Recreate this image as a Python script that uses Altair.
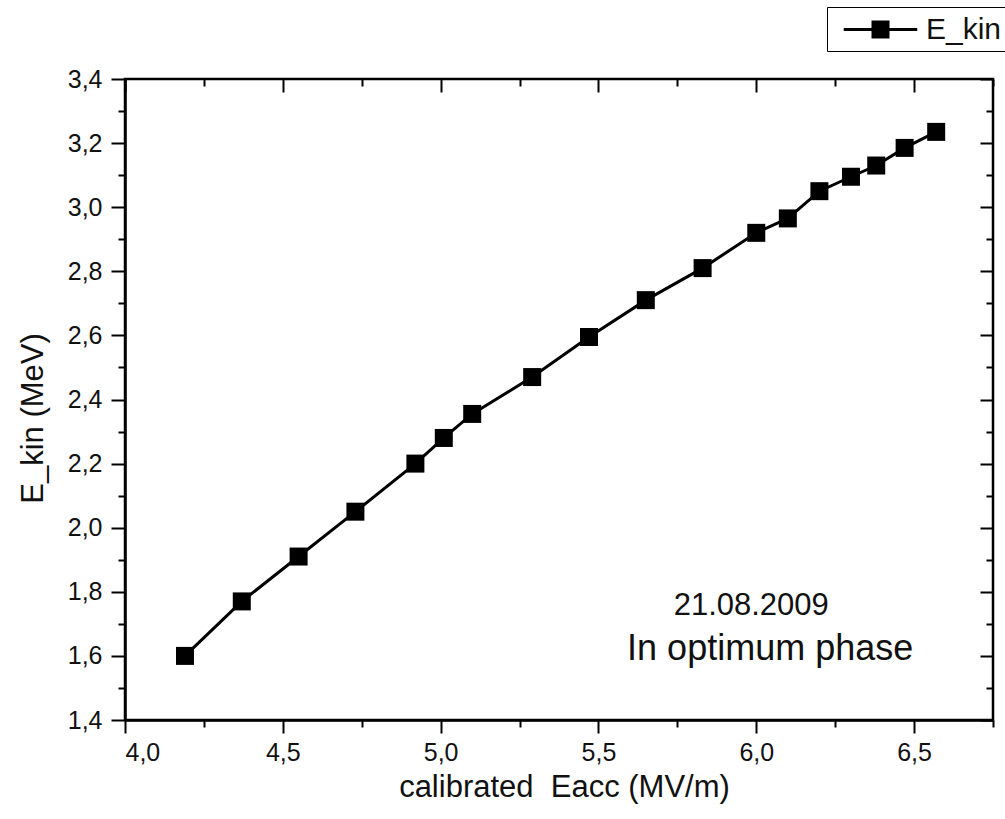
import altair as alt
import pandas as pd

# ---- data ----
eacc = [4.19, 4.37, 4.55, 4.73, 4.92, 5.01, 5.10, 5.29, 5.47, 5.65, 5.83,
        6.00, 6.10, 6.20, 6.30, 6.38, 6.47, 6.57]
ekin = [1.60, 1.77, 1.91, 2.05, 2.20, 2.28, 2.355, 2.47, 2.595, 2.71, 2.81,
        2.92, 2.965, 3.05, 3.095, 3.13, 3.185, 3.235]
series_name = "E_kin"

x_ticks = [4.0, 4.25, 4.5, 4.75, 5.0, 5.25, 5.5, 5.75, 6.0, 6.25, 6.5, 6.75]
y_ticks = [1.4, 1.5, 1.6, 1.7, 1.8, 1.9, 2.0, 2.1, 2.2, 2.3, 2.4, 2.5, 2.6,
           2.7, 2.8, 2.9, 3.0, 3.1, 3.2, 3.3, 3.4]

note_text = ["21.08.2009", "In optimum phase"]
note_x = [5.984, 6.044]
note_y = [1.728, 1.587]
note_size = [31, 36]

df = pd.DataFrame({"Eacc": eacc, "Ekin": ekin, "series": [series_name] * len(eacc)})
notes = pd.DataFrame({"t": note_text, "x": note_x, "y": note_y, "s": note_size})

FONT = "Liberation Sans"
TXT = "#111111"
W, H = 868, 641

xscale = alt.Scale(domain=[4.0, 6.75], nice=False, zero=False)
yscale = alt.Scale(domain=[1.4, 3.4], nice=False, zero=False)

X_MAJOR = "round(datum.value*4) % 2 == 0"
Y_MAJOR = "round(datum.value*10) % 2 == 0"

x_axis = alt.Axis(
    orient="bottom", values=x_ticks,
    # grid lines dashed so only a short inward tick shows at the top edge
    grid=True, gridColor="black", gridWidth=2, gridOpacity=1,
    gridDash={"condition": {"test": X_MAJOR, "value": [13, 2000]}, "value": [7, 2000]},
    tickSize={"condition": {"test": X_MAJOR, "value": 13}, "value": 7},
    tickWidth=2, tickColor="black", domainColor="black", domainWidth=2.5,
    labelExpr=f"{X_MAJOR} ? replace(format(datum.value, '.1f'), '.', ',') : ''",
    labelFont=FONT, labelFontSize=25, labelColor=TXT, labelPadding=7,
    title="calibrated\u00a0 Eacc (MV/m)", titleFont=FONT, titleFontSize=31,
    titleFontWeight="normal", titleColor=TXT,
    titleX=439, titleY=76, titleBaseline="alphabetic", titleAlign="center",
)
y_axis = alt.Axis(
    orient="left", values=y_ticks,
    # grid lines dashed so only a short inward tick shows at the right edge
    grid=True, gridColor="black", gridWidth=2, gridOpacity=1,
    gridDash={"condition": {"test": Y_MAJOR, "value": [0, W - 13, 13, 50]},
              "value": [0, W - 7, 7, 50]},
    tickSize={"condition": {"test": Y_MAJOR, "value": 14}, "value": 7},
    tickWidth=2, tickColor="black", domainColor="black", domainWidth=2.5,
    labelExpr=f"{Y_MAJOR} ? replace(format(datum.value, '.1f'), '.', ',') : ''",
    labelFont=FONT, labelFontSize=25, labelColor=TXT, labelPadding=9,
    title="E_kin (MeV)", titleFont=FONT, titleFontSize=31,
    titleFontWeight="normal", titleColor=TXT,
    titleAngle=270, titleX=-92, titleY=339, titleBaseline="middle", titleAlign="center",
)

base = alt.Chart(df).encode(
    x=alt.X("Eacc:Q", scale=xscale, axis=x_axis),
    y=alt.Y("Ekin:Q", scale=yscale, axis=y_axis),
)
line = base.mark_line(color="black", strokeWidth=3)

legend_path = "M-2.45,0L-0.5,0M0.5,0L2.45,0M-0.5,-0.5L0.5,-0.5L0.5,0.5L-0.5,0.5Z"
pts = base.mark_point(shape="square", filled=True, size=324, opacity=1).encode(
    color=alt.Color(
        "series:N",
        scale=alt.Scale(range=["black"]),
        legend=alt.Legend(
            title=None, orient="none", legendX=702, legendY=-72,
            symbolType=legend_path, symbolSize=900, symbolStrokeWidth=3,
            symbolStrokeColor="black", symbolFillColor="black",
            symbolOffset=31, labelOffset=29,
            labelFont=FONT, labelFontSize=30, labelColor=TXT,
            strokeColor="black", fillColor="white", padding=6,
        ),
    )
)

main = alt.layer(line, pts)

text = alt.Chart(notes).mark_text(
    font=FONT, color=TXT, align="center", baseline="alphabetic"
).encode(
    x=alt.X("x:Q", scale=xscale, axis=None),
    y=alt.Y("y:Q", scale=yscale, axis=None),
    text="t:N",
    size=alt.Size("s:Q", scale=None, legend=None),
)

chart = alt.layer(main, text).resolve_axis(x="independent", y="independent").properties(
    width=W, height=H,
    autosize=alt.AutoSizeParams(type="none"),
    padding={"left": 125, "top": 79, "right": 12, "bottom": 99},
    background="white",
).configure_view(stroke="black", strokeWidth=2.5)

chart.save("out.html", embed_options={"renderer": "svg", "actions": False})
